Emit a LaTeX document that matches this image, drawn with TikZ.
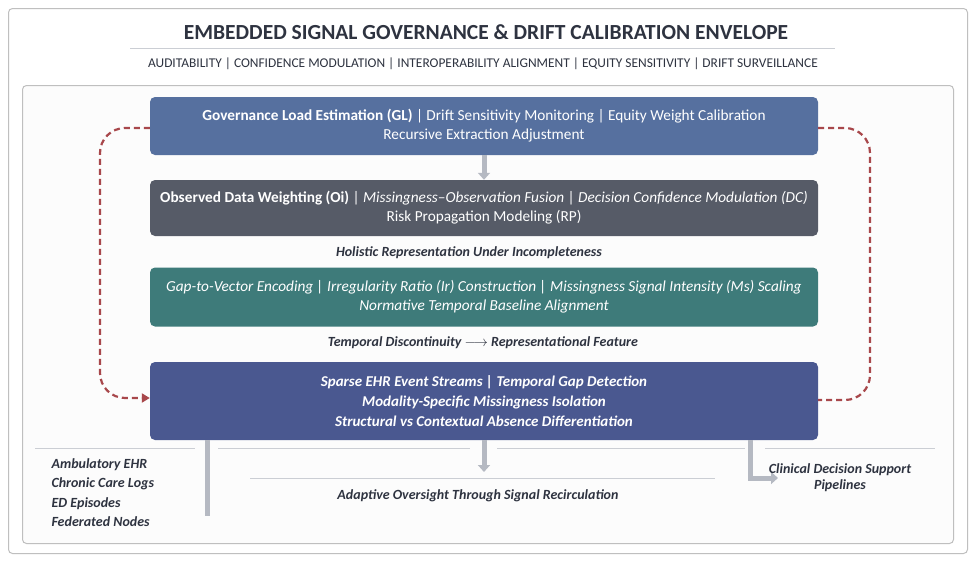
\documentclass[tikz,border=0pt]{standalone}
\usepackage{fontspec}
\setmainfont{Carlito}
\usetikzlibrary{arrows.meta}
\definecolor{bA}{HTML}{56709F}
\definecolor{bB}{HTML}{565B67}
\definecolor{bC}{HTML}{3E7B7A}
\definecolor{bD}{HTML}{4A5890}
\definecolor{tx}{HTML}{2E3340}
\definecolor{rd}{HTML}{A8474B}
\definecolor{gr}{HTML}{B5B9C2}
\begin{document}
\begin{tikzpicture}[x=1pt,y=-1pt,
 box/.style={rounded corners=5pt,draw=none,text=white,align=center,font=\fontsize{15.3}{19}\selectfont},
 lab/.style={text=tx,font=\fontsize{14}{16}\selectfont\itshape\bfseries},
 garr/.style={gr,line width=5pt,-{Triangle[length=7pt,width=12pt]}},
 rdash/.style={rd,line width=2.2pt,dash pattern=on 6pt off 4pt,rounded corners=25pt},
 rule/.style={gr!70,line width=0.8pt}]
\useasboundingbox (0,0) rectangle (975,560);
\fill[white] (0,0) rectangle (975,560);
\node[draw=gray!50,line width=1pt,rounded corners=4pt,minimum width=959pt,minimum height=545pt,anchor=north west] (outer) at (8,8) {};
\node[draw=gray!50,line width=1pt,rounded corners=4pt,fill=gray!2,minimum width=931pt,minimum height=458pt,anchor=north west] (inner) at (22,85) {};
\node[text=tx,font=\fontsize{21.5}{24}\selectfont\bfseries] (title) at (486,32) {EMBEDDED SIGNAL GOVERNANCE \& DRIFT CALIBRATION ENVELOPE};
\coordinate (r1) at (130,48); \coordinate (r2) at (835,48);
\draw[rule] (r1) -- (r2);
\node[text=tx,font=\fontsize{13.4}{15}\selectfont] (sub) at (483,64) {AUDITABILITY | CONFIDENCE MODULATION | INTEROPERABILITY ALIGNMENT | EQUITY SENSITIVITY | DRIFT SURVEILLANCE};
\node[box,fill=bA,minimum width=668pt,minimum height=58pt] (b1) at (484,126) {\textbf{Governance Load Estimation (GL)} | Drift Sensitivity Monitoring | Equity Weight Calibration\\ Recursive Extraction Adjustment};
\node[box,fill=bB,minimum width=668pt,minimum height=56pt] (b2) at (484,208) {\textbf{Observed Data Weighting (Oi)} | \textit{Missingness–Observation Fusion} | \textit{Decision Confidence Modulation (DC)}\\ Risk Propagation Modeling (RP)};
\node[lab] (l1) at (469,253) {Holistic Representation Under Incompleteness};
\node[box,fill=bC,minimum width=668pt,minimum height=59pt] (b3) at (484,297) {\textit{Gap-to-Vector Encoding | Irregularity Ratio (Ir) Construction | Missingness Signal Intensity (Ms) Scaling}\\ \textit{Normative Temporal Baseline Alignment}};
\node[lab] (l2) at (483,343) {Temporal Discontinuity {\color{tx}$\longrightarrow$} Representational Feature};
\node[box,fill=bD,minimum width=668pt,minimum height=78pt,font=\fontsize{15}{20}\selectfont\itshape\bfseries] (b4) at (484,401) {Sparse EHR Event Streams | Temporal Gap Detection\\ Modality-Specific Missingness Isolation\\ Structural vs Contextual Absence Differentiation};
\draw[garr] (b1.south) -- (b2.north);
\draw[rdash,-{Triangle[length=8pt,width=9pt]}] (b1.west |- 0,128) -- (100,128) -- (100,398) -- (b4.west |- 0,398);
\draw[rdash] (b1.east |- 0,128) -- (870,128) -- (870,400) -- (b4.east |- 0,400);
\draw[rule] (35,448) -- (195,448);
\draw[rule] (218,448) -- (470,448);
\draw[rule] (497,448) -- (745,448);
\draw[rule] (765,448) -- (935,448);
\draw[gr,line width=5pt] (207,440) -- (207,516);
\draw[garr] (b4.south) -- (484,472);
\coordinate (t) at (778,478);
\draw[garr] (750,440) -- (750,478) -- (t);
\draw[rule] (250,478) -- (715,478);
\node[lab] (l3) at (478,496) {Adaptive Oversight Through Signal Recirculation};
\node[lab,font=\fontsize{14}{19.5}\selectfont\itshape\bfseries,align=left,anchor=north west] (src) at (48,455) {Ambulatory EHR\\Chronic Care Logs\\ED Episodes\\Federated Nodes};
\node[lab,font=\fontsize{14}{16}\selectfont\itshape\bfseries,align=center] (cds) at (840,478) {Clinical Decision Support\\Pipelines};
\end{tikzpicture}
\end{document}
